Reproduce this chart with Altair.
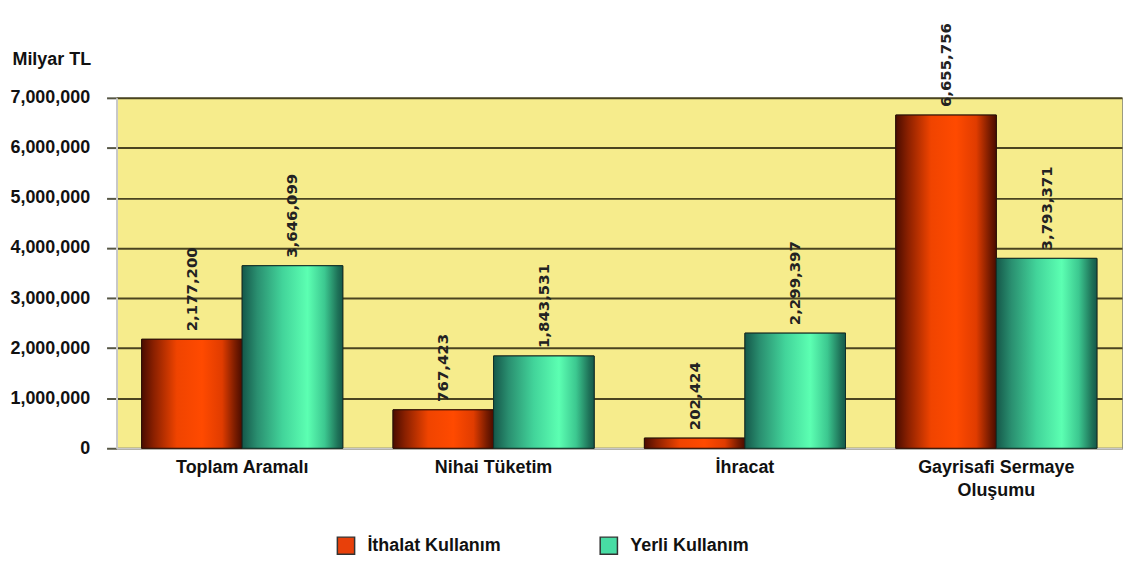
import altair as alt
import pandas as pd

categories = ["Toplam Aramalı", "Nihai Tüketim", "İhracat", "Gayrisafi Sermaye|Oluşumu"]
series = ["İthalat Kullanım", "Yerli Kullanım"]
ithalat = [2177200, 767423, 202424, 6655756]
yerli = [3646099, 1843531, 2299397, 3793371]
y_ticks = [0, 1000000, 2000000, 3000000, 4000000, 5000000, 6000000, 7000000]

rows = []
for c, v in zip(categories, ithalat):
    rows.append({"cat": c, "series": series[0], "value": v})
for c, v in zip(categories, yerli):
    rows.append({"cat": c, "series": series[1], "value": v})
df = pd.DataFrame(rows)

FONT = "Liberation Sans"

red_grad = {
    "gradient": "linear", "x1": 0, "x2": 1, "y1": 0, "y2": 0,
    "stops": [
        {"offset": 0, "color": "#4a0c00"},
        {"offset": 0.12, "color": "#8a2000"},
        {"offset": 0.35, "color": "#f04400"},
        {"offset": 0.6, "color": "#ff4a00"},
        {"offset": 0.8, "color": "#e03c00"},
        {"offset": 0.93, "color": "#7a1c00"},
        {"offset": 1, "color": "#4a0c00"},
    ],
}
green_grad = {
    "gradient": "linear", "x1": 0, "x2": 1, "y1": 0, "y2": 0,
    "stops": [
        {"offset": 0, "color": "#15584a"},
        {"offset": 0.15, "color": "#2a8f70"},
        {"offset": 0.4, "color": "#42d49a"},
        {"offset": 0.65, "color": "#5cffb2"},
        {"offset": 0.82, "color": "#3cc890"},
        {"offset": 0.95, "color": "#1e7258"},
        {"offset": 1, "color": "#15584a"},
    ],
}

base = alt.Chart(df).encode(
    x=alt.X(
        "cat:N",
        sort=categories,
        scale=alt.Scale(paddingInner=0.2, paddingOuter=0.1),
        axis=alt.Axis(
            title=None,
            labelAngle=0,
            labelFont=FONT,
            labelFontSize=18,
            labelFontWeight="bold",
            labelColor="#111111",
            labelBaseline="top",
            labelPadding=10,
            labelLineHeight=23,
            labelExpr="split(datum.label, '|')",
            ticks=False,
            domainColor="#c8c8c8",
            domainWidth=2,
            grid=False,
        ),
    ),
    xOffset=alt.XOffset(
        "series:N",
        sort=series,
        scale=alt.Scale(domain=series, paddingInner=0, paddingOuter=0),
    ),
    y=alt.Y(
        "value:Q",
        scale=alt.Scale(domain=[0, 7000000], nice=False),
        axis=alt.Axis(
            values=y_ticks,
            format=",.0f",
            title="Milyar TL",
            titleAngle=0,
            titleAlign="left",
            titleBaseline="alphabetic",
            titleX=-105,
            titleY=-33,
            titleFont=FONT,
            titleFontSize=18,
            titleFontWeight="bold",
            titleColor="#111111",
            labelFont=FONT,
            labelFontSize=18,
            labelFontWeight="bold",
            labelColor="#111111",
            labelPadding=17,
            tickSize=10,
            tickColor="#555544",
            tickWidth=2,
            domainColor="#c8c8c8",
            domainWidth=2,
            grid=True,
            gridColor="#4a4420",
            gridWidth=2,
        ),
    ),
)

legend_bars = base.mark_bar(stroke="#2a1a0a", strokeWidth=1).encode(
    color=alt.Color(
        "series:N",
        sort=series,
        scale=alt.Scale(domain=series, range=["#e8400a", "#48dca4"]),
        legend=alt.Legend(
            title=None,
            orient="none",
            legendX=221,
            legendY=440,
            direction="horizontal",
            symbolType="square",
            symbolSize=300,
            symbolStrokeColor="#333333",
            symbolStrokeWidth=1.5,
            symbolOpacity=1,
            labelFont=FONT,
            labelFontSize=18,
            labelFontWeight="bold",
            labelColor="#111111",
            labelOffset=12,
            labelLimit=300,
            columnPadding=95,
            padding=0,
        ),
    )
)

red_bars = base.transform_filter(alt.datum.series == series[0]).mark_bar(
    fill=red_grad, stroke="#2a1008", strokeWidth=1
)
green_bars = base.transform_filter(alt.datum.series == series[1]).mark_bar(
    fill=green_grad, stroke="#10302a", strokeWidth=1
)

labels = base.mark_text(
    angle=270,
    align="left",
    baseline="middle",
    dx=8,
    font="DejaVu Sans",
    fontWeight="bold",
    fontSize=15,
    color="#222222",
).encode(text=alt.Text("value:Q", format=",.0f"))

chart = (
    alt.layer(legend_bars, red_bars, green_bars, labels)
    .properties(
        width=1010,
        height=352,
        autosize=alt.AutoSizeParams(type="none"),
        padding={"left": 109, "top": 89, "right": 3, "bottom": 110},
    )
    .configure_view(fill="#f6ec8c", stroke="#9a9a80", strokeWidth=1)
)

chart.save("out.html", embed_options={"renderer": "svg", "actions": False})
